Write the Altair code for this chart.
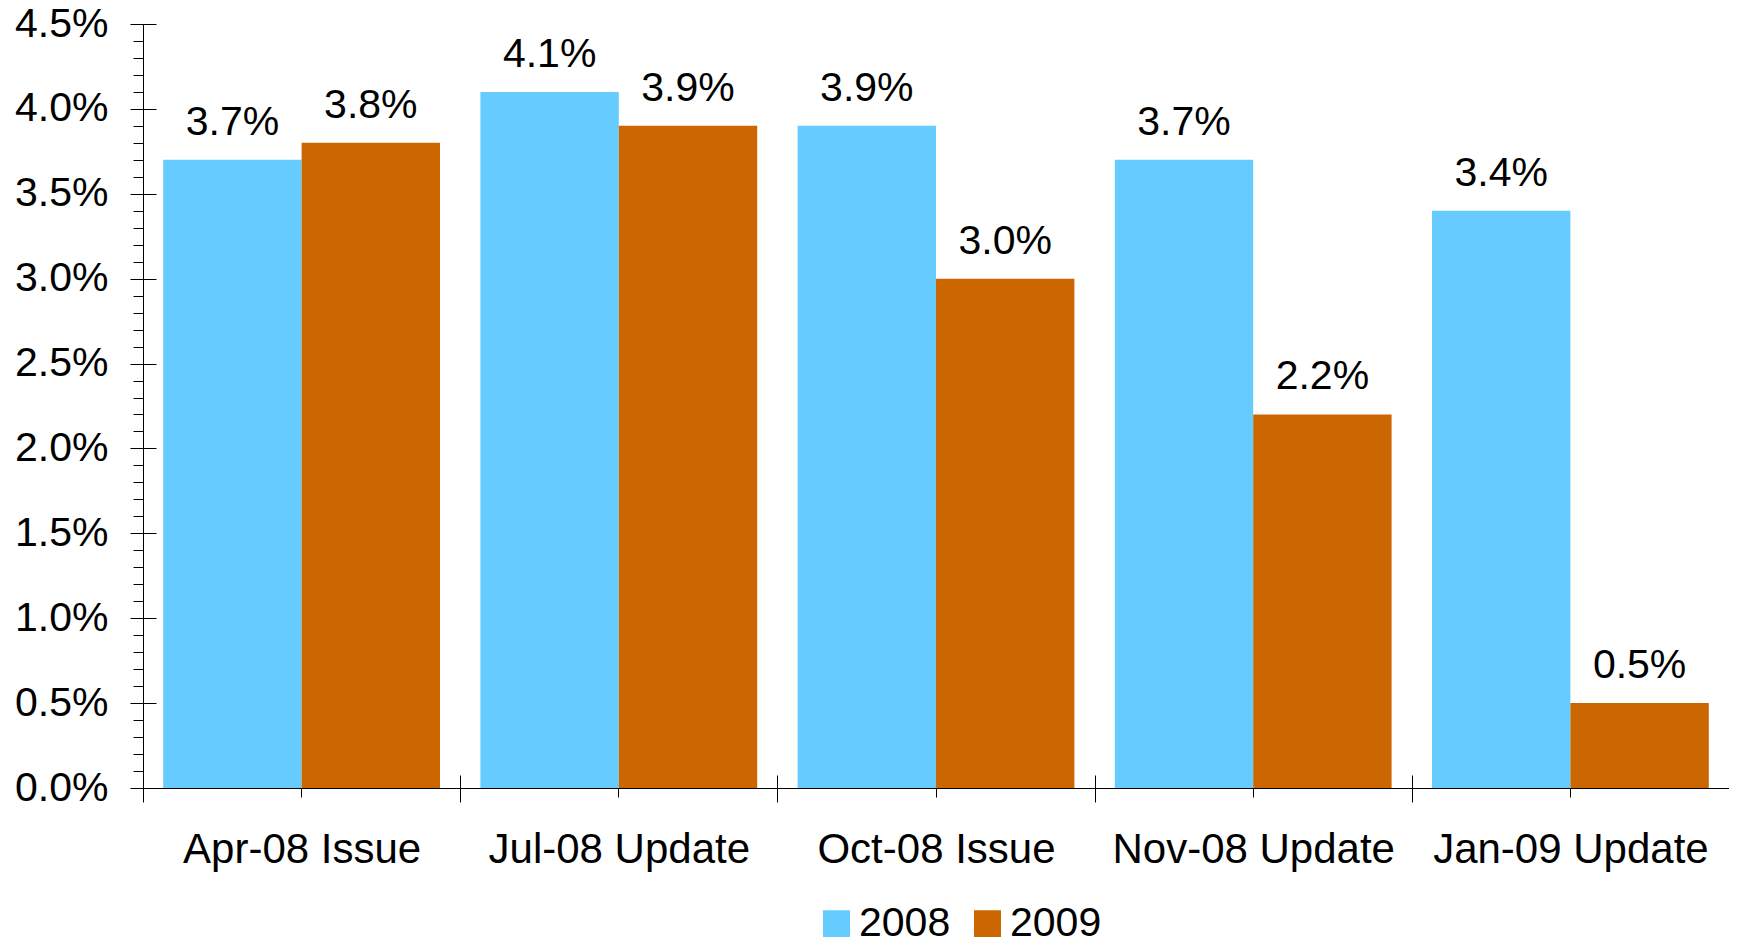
import altair as alt
import pandas as pd

categories = ["Apr-08 Issue", "Jul-08 Update", "Oct-08 Issue", "Nov-08 Update", "Jan-09 Update"]
years = ["2008", "2009"]
values_2008 = [3.7, 4.1, 3.9, 3.7, 3.4]
values_2009 = [3.8, 3.9, 3.0, 2.2, 0.5]
colors = ["#66CCFF", "#CC6600"]
major_ticks = [0.0, 0.5, 1.0, 1.5, 2.0, 2.5, 3.0, 3.5, 4.0, 4.5]
minor_ticks = [i / 10 for i in range(46)]

rows = []
for c, a, b in zip(categories, values_2008, values_2009):
    rows.append({"cat": c, "year": "2008", "val": a})
    rows.append({"cat": c, "year": "2009", "val": b})
df = pd.DataFrame(rows)

FONT = "Liberation Sans"
FS = 41

xscale = alt.Scale(domain=categories, paddingInner=0, paddingOuter=0)
yscale = alt.Scale(domain=[0, 4.5], nice=False, zero=True)
xoff = alt.XOffset("year:N", scale=alt.Scale(domain=years, paddingOuter=0.146, paddingInner=0))

base = alt.Chart(df)

bars = base.mark_bar().encode(
    x=alt.X("cat:N", sort=categories, scale=xscale, title=None,
            axis=alt.Axis(orient="bottom", tickBand="extent", tickSize=14, tickColor="black",
                          domainColor="black", labelFont=FONT, labelFontSize=42, labelColor="black",
                          labelAngle=0, labelPadding=27, grid=False, labelLimit=0)),
    y=alt.Y("val:Q", scale=yscale, title=None,
            axis=alt.Axis(orient="left", values=major_ticks, tickSize=13, tickColor="black",
                          domainColor="black", labelFont=FONT, labelFontSize=FS, labelColor="black",
                          labelPadding=22, grid=False,
                          labelExpr="format(datum.value, '.1f') + '%'")),
    xOffset=xoff,
    color=alt.Color("year:N", scale=alt.Scale(domain=years, range=colors),
                    legend=alt.Legend(title=None, orient="none", legendX=673, legendY=879,
                                      direction="horizontal", symbolType="square",
                                      symbolSize=729, symbolStrokeWidth=0,
                                      labelFont=FONT, labelFontSize=FS, labelColor="black",
                                      labelOffset=2, columnPadding=16)),
)

labels = base.transform_calculate(
    lab="format(datum.val, '.1f') + '%'"
).mark_text(dy=-25, baseline="alphabetic", font=FONT, fontSize=FS, color="black").encode(
    x=alt.X("cat:N", sort=categories, scale=xscale, axis=None),
    y=alt.Y("val:Q", scale=yscale, axis=None),
    xOffset=xoff,
    text="lab:N",
)

ticks_a = base.mark_bar(opacity=0).encode(
    x=alt.X("cat:N", sort=categories, scale=xscale, title=None,
            axis=alt.Axis(orient="bottom", offset=-13, tickBand="extent", tickSize=13,
                          tickColor="black", domain=False, labels=False, grid=False)),
    y=alt.Y("val:Q", scale=yscale, title=None,
            axis=alt.Axis(orient="left", values=minor_ticks, tickSize=10, tickColor="black",
                          domain=False, labels=False, grid=False)),
)

ticks_b = base.mark_bar(opacity=0).encode(
    x=alt.X("cat:N", sort=categories, scale=xscale, title=None,
            axis=alt.Axis(orient="bottom", tickSize=9, tickColor="black",
                          domain=False, labels=False, grid=False)),
    y=alt.Y("val:Q", scale=yscale, title=None,
            axis=alt.Axis(orient="left", offset=-13, values=major_ticks, tickSize=13,
                          tickColor="black", domain=False, labels=False, grid=False)),
)

chart = alt.layer(bars, labels, ticks_a, ticks_b).resolve_axis(
    x="independent", y="independent"
).properties(
    width=1586, height=764,
    autosize=alt.AutoSizeParams(type="none"),
    padding={"left": 135, "top": 16, "right": 0, "bottom": 149},
).configure_view(stroke=None).configure_axis(domainWidth=1, tickWidth=1)

chart.save("out.html", embed_options={"renderer": "svg", "actions": False})
